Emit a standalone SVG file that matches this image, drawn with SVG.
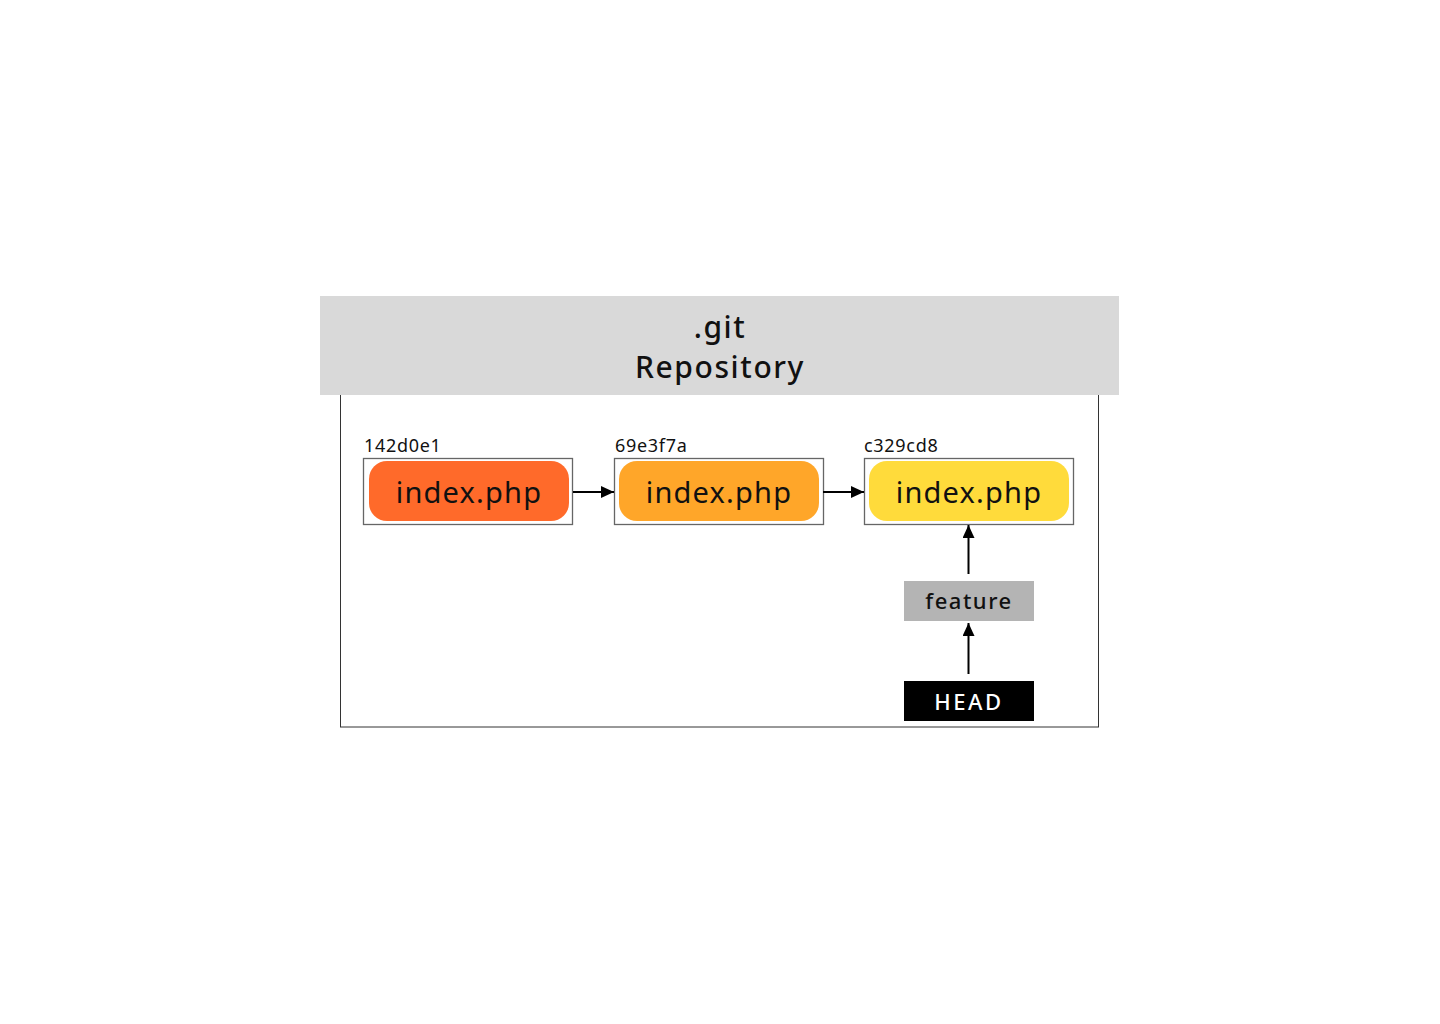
<svg xmlns="http://www.w3.org/2000/svg" width="1440" height="1024" viewBox="0 0 1440 1024">
<defs>
<style>
.frame{fill:#fff;stroke:#333;stroke-width:1}
.cbox{fill:#fff;stroke:#666;stroke-width:1.3}
.file{font-family:"Noto Sans","Liberation Sans",sans-serif;font-size:29px;letter-spacing:1.2px;fill:#111;text-anchor:middle}
.hash{font-family:"Noto Sans","Liberation Sans",sans-serif;font-size:18px;letter-spacing:0.7px;fill:#111}
.ref{font-family:"Noto Sans","Liberation Sans",sans-serif;font-size:22px;font-weight:500;letter-spacing:1.5px;text-anchor:middle}
.title{font-family:"Noto Sans","Liberation Sans",sans-serif;font-size:30px;font-weight:500;letter-spacing:1.6px;fill:#111;text-anchor:middle}
.conn{stroke:#000;stroke-width:2;fill:none;marker-end:url(#arr)}
</style>
<marker id="arr" markerWidth="13" markerHeight="12" refX="13" refY="6" orient="auto" markerUnits="userSpaceOnUse" viewBox="0 0 13 12">
<path d="M0,0 L13,6 L0,12 Z" fill="#000"/>
</marker>
</defs>
<rect width="1440" height="1024" fill="#fff"/>
<g id="repository">
<rect class="frame" x="340.5" y="380" width="758" height="347"/>
<rect x="320" y="296" width="799" height="99" fill="#d9d9d9"/>
<text class="title" x="720" y="338">.git</text>
<text class="title" x="720" y="378">Repository</text>
</g>
<g id="commit-142d0e1">
<text class="hash" x="364" y="452">142d0e1</text>
<rect class="cbox" x="363.5" y="458.5" width="209" height="66"/>
<rect x="369" y="461" width="200" height="60" rx="18" fill="#ff6a2a"/>
<text class="file" x="469" y="503">index.php</text>
</g>
<g id="commit-69e3f7a">
<text class="hash" x="615" y="452">69e3f7a</text>
<rect class="cbox" x="614.5" y="458.5" width="209" height="66"/>
<rect x="619" y="461" width="200" height="60" rx="18" fill="#ffa629"/>
<text class="file" x="719" y="503">index.php</text>
</g>
<g id="commit-c329cd8">
<text class="hash" x="864" y="452">c329cd8</text>
<rect class="cbox" x="864.5" y="458.5" width="209" height="66"/>
<rect x="869" y="461" width="200" height="60" rx="18" fill="#ffdb3b"/>
<text class="file" x="969" y="503">index.php</text>
</g>
<g id="feature">
<rect x="904" y="581" width="130" height="40" fill="#b4b4b4"/>
<text class="ref" x="969" y="609" fill="#111">feature</text>
</g>
<g id="HEAD">
<rect x="904" y="681" width="130" height="40" fill="#000"/>
<text class="ref" x="969" y="710" fill="#fff" style="letter-spacing:2.6px">HEAD</text>
</g>
<g id="connectors">
<line class="conn" x1="573" y1="492" x2="614" y2="492"/>
<line class="conn" x1="823" y1="492" x2="864" y2="492"/>
<line class="conn" x1="968.5" y1="574" x2="968.5" y2="525"/>
<line class="conn" x1="968.5" y1="674" x2="968.5" y2="623"/>
</g>
</svg>
